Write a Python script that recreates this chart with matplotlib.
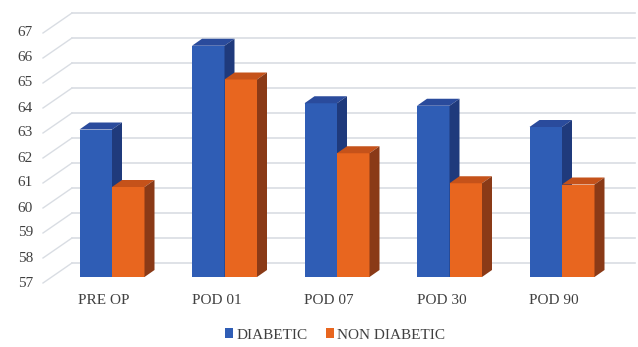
import matplotlib
matplotlib.use("Agg")
import matplotlib.pyplot as plt
from matplotlib.patches import Polygon, Patch

categories = ["PRE OP", "POD 01", "POD 07", "POD 30", "POD 90"]
diabetic = [62.9, 66.25, 63.95, 63.85, 63.0]
non_diabetic = [60.6, 64.9, 61.95, 60.75, 60.7]
series_names = ["DIABETIC", "NON DIABETIC"]
y_ticks = list(range(57, 68))

W, H, DPI = 638, 347, 100
fig = plt.figure(figsize=(W / DPI, H / DPI), dpi=DPI)
ax = fig.add_axes([0, 0, 1, 1])

# pixel layout of the pseudo-3D frame
cx0, cstep = 112.0, 112.5        # first group centre and group spacing (px)
base_py, unit_px = 277.0, 25.0   # floor of the bar plane and px per unit
y_min = y_ticks[0]
ax.set_xlim((0 - cx0) / cstep, (W - cx0) / cstep)
ax.set_ylim(y_min - (H - base_py) / unit_px, y_min + base_py / unit_px)
ax.axis("off")

def px_x(dpx):
    return dpx / cstep

def px_y(dpx):
    return dpx / unit_px

bar_w = px_x(32.5)
bar_dx, bar_dy = px_x(10), px_y(7)          # bar depth
wall_dx, wall_dy = px_x(19.3), px_y(14)     # bar plane -> back wall
front_dx, front_dy = px_x(-9.7), px_y(-6)   # bar plane -> front edge

wall_left = px_x(72 - cx0)
wall_right = px_x(635 - cx0)
grid_col = "#d9dde3"

for v in y_ticks:
    yb = v + wall_dy
    ax.plot([wall_left, wall_right], [yb, yb], color=grid_col, lw=1.2, zorder=1)
    ax.plot([wall_left - (wall_dx - front_dx), wall_left], [v + front_dy, yb],
            color=grid_col, lw=1.0, zorder=1)
    ax.text(px_x(33 - cx0), v + front_dy, str(v), ha="right", va="center",
            fontsize=11, family="Liberation Serif", color="#404040")

blue = ("#2f5db5", "#2a4b9c", "#1f3a7c")
orange = ("#e8661f", "#c5521a", "#8a3a17")

def bar3d(x0, h, cols):
    front, top, side = cols
    y0 = y_min
    ax.add_patch(Polygon([(x0, y0), (x0 + bar_w, y0), (x0 + bar_w, h), (x0, h)],
                         closed=True, fc=front, ec="none", zorder=3))
    ax.add_patch(Polygon([(x0, h), (x0 + bar_w, h),
                          (x0 + bar_w + bar_dx, h + bar_dy), (x0 + bar_dx, h + bar_dy)],
                         closed=True, fc=top, ec="none", zorder=3))
    ax.add_patch(Polygon([(x0 + bar_w, y0), (x0 + bar_w + bar_dx, y0 + bar_dy),
                          (x0 + bar_w + bar_dx, h + bar_dy), (x0 + bar_w, h)],
                         closed=True, fc=side, ec="none", zorder=3))

for i, (d, n) in enumerate(zip(diabetic, non_diabetic)):
    bar3d(i - bar_w, d, blue)
    bar3d(i, n, orange)
    ax.text(i + px_x(-8), y_min - px_y(23), categories[i], ha="center", va="center",
            fontsize=11, family="Liberation Serif", color="#404040")

handles = [Patch(fc=blue[0], ec="none"), Patch(fc=orange[0], ec="none")]
fig.legend(handles, series_names, loc="center", bbox_to_anchor=(0.525, 1 - 335 / H),
           ncol=2, frameon=False, handlelength=0.55, handleheight=0.55,
           handletextpad=0.2, columnspacing=1.2,
           prop={"family": "Liberation Serif", "size": 11})
for t in fig.legends[0].get_texts():
    t.set_color("#404040")

fig.savefig("out.png", dpi=DPI)
